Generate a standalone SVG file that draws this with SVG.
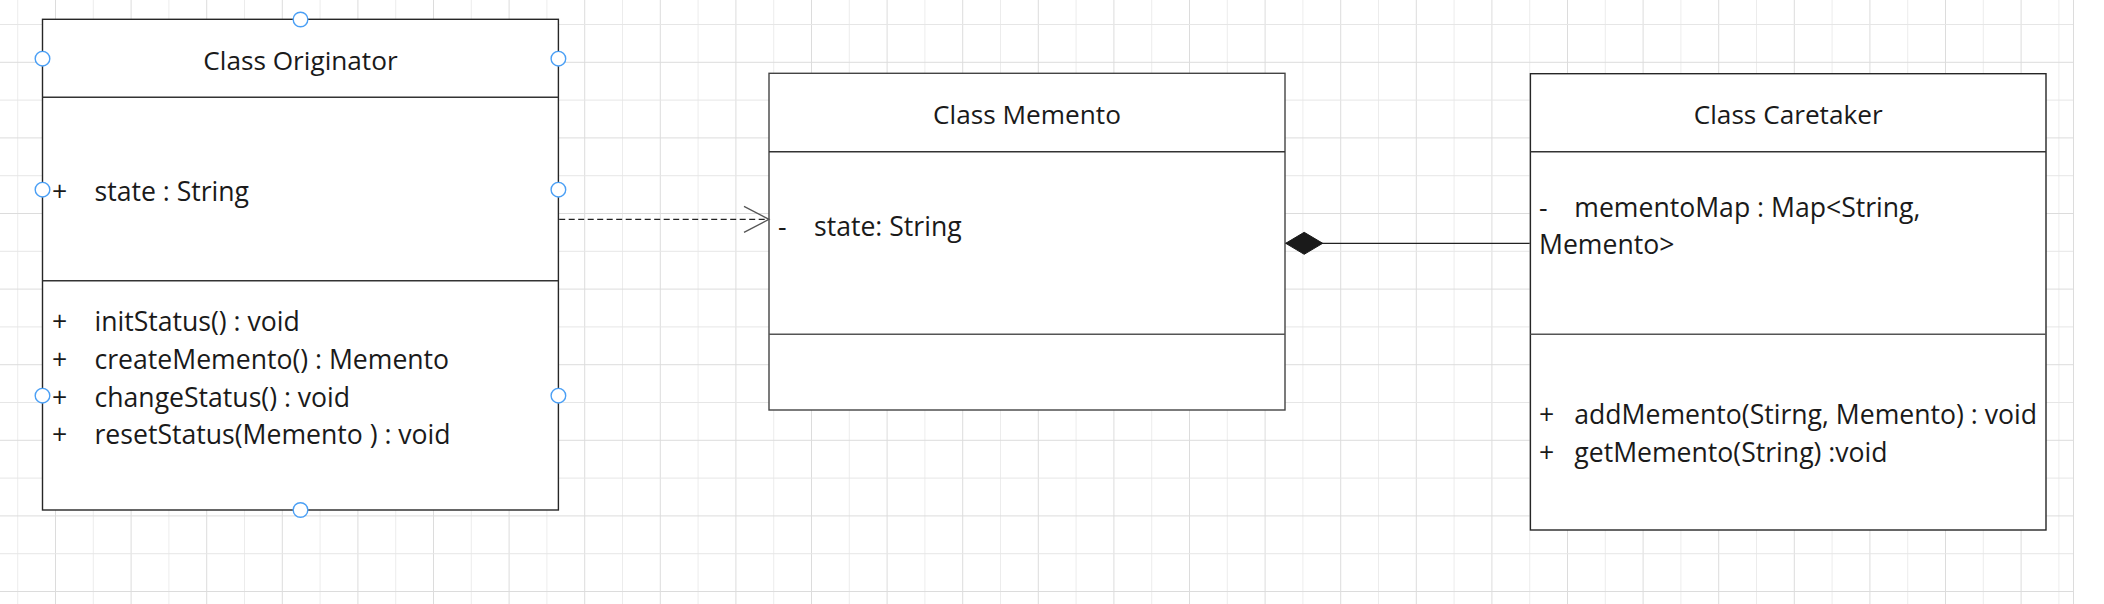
<svg xmlns="http://www.w3.org/2000/svg" width="2104" height="604" viewBox="0 0 2104 604">
  <defs>
    <pattern id="grid" patternUnits="userSpaceOnUse" x="17.2" y="24" width="75.6" height="75.6">
      <line x1="0.5" y1="0" x2="0.5" y2="75.6" stroke="#ececec" stroke-width="1"/>
      <line x1="38.3" y1="0" x2="38.3" y2="75.6" stroke="#dcdcdc" stroke-width="1"/>
      <line x1="0" y1="0.5" x2="75.6" y2="0.5" stroke="#e6e6e6" stroke-width="1"/>
      <line x1="0" y1="38.3" x2="75.6" y2="38.3" stroke="#dcdcdc" stroke-width="1"/>
    </pattern>
    <marker id="openArrow" markerUnits="userSpaceOnUse" markerWidth="30" markerHeight="30" refX="26" refY="14" orient="auto">
      <path d="M1,1 L26,14 L1,27" fill="none" stroke="#555" stroke-width="1.3"/>
    </marker>
    <marker id="diamond" markerUnits="userSpaceOnUse" markerWidth="40" markerHeight="24" refX="1" refY="12" orient="auto">
      <path d="M1,12 L19.5,1 L38,12 L19.5,23 Z" fill="#1a1a1a" stroke="#1a1a1a" stroke-width="1"/>
    </marker>
  </defs>
  <style>
    .box { fill: #ffffff; stroke: #262626; stroke-width: 1.4; }
    .div { stroke: #333333; stroke-width: 1.4; }
    .t { font-family: "Open Sans", "Noto Sans", "Liberation Sans", sans-serif; font-size: 26.6px; fill: #1a1a1a; }
    .title { text-anchor: middle; font-size: 26.2px; }
    .handle { fill: #ffffff; stroke: #4a9ff5; stroke-width: 1.4; }
  </style>

  <rect x="0" y="0" width="2104" height="604" fill="#ffffff"/>
  <rect x="0" y="0" width="2073" height="604" fill="url(#grid)"/>
  <line x1="2073.5" y1="0" x2="2073.5" y2="604" stroke="#dcdcdc" stroke-width="1"/>

  <g id="originator">
    <rect class="box" x="42.5" y="19.3" width="515.9" height="490.7"/>
    <line class="div" x1="42.5" y1="97.3" x2="558.4" y2="97.3"/>
    <line class="div" x1="42.5" y1="280.7" x2="558.4" y2="280.7"/>
    <text class="t title" x="300.5" y="70">Class Originator</text>
    <text class="t" x="52" y="200.7">+</text>
    <text class="t" x="94.5" y="200.7">state : String</text>
    <text class="t" x="52" y="330.7">+</text>
    <text class="t" x="94.5" y="330.7">initStatus() : void</text>
    <text class="t" x="52" y="369">+</text>
    <text class="t" x="94.5" y="369">createMemento() : Memento</text>
    <text class="t" x="52" y="406.7">+</text>
    <text class="t" x="94.5" y="406.7">changeStatus() : void</text>
    <text class="t" x="52" y="444.3">+</text>
    <text class="t" x="94.5" y="444.3">resetStatus(Memento ) : void</text>
    <circle class="handle" cx="300.5" cy="19.5" r="7.3"/>
    <circle class="handle" cx="42.5" cy="58.7" r="7.3"/>
    <circle class="handle" cx="558.4" cy="58.7" r="7.3"/>
    <circle class="handle" cx="42.5" cy="189.7" r="7.3"/>
    <circle class="handle" cx="558.4" cy="189.7" r="7.3"/>
    <circle class="handle" cx="42.5" cy="395.7" r="7.3"/>
    <circle class="handle" cx="558.4" cy="395.7" r="7.3"/>
    <circle class="handle" cx="300.5" cy="510" r="7.3"/>
  </g>

  <g id="memento">
    <rect class="box" x="769" y="73.3" width="516" height="336.7" style="stroke:#444"/>
    <line class="div" x1="769" y1="151.7" x2="1285" y2="151.7"/>
    <line class="div" x1="769" y1="334.3" x2="1285" y2="334.3" style="stroke:#555"/>
    <text class="t title" x="1027" y="124">Class Memento</text>
    <text class="t" x="778" y="235.7">-</text>
    <text class="t" x="814" y="235.7">state: String</text>
  </g>

  <g id="caretaker">
    <rect class="box" x="1530.4" y="73.7" width="515.6" height="456.3"/>
    <line class="div" x1="1530.4" y1="151.7" x2="2046" y2="151.7"/>
    <line class="div" x1="1530.4" y1="334.3" x2="2046" y2="334.3" style="stroke:#555"/>
    <text class="t title" x="1788.2" y="124">Class Caretaker</text>
    <text class="t" x="1539" y="216.7">-</text>
    <text class="t" x="1574.3" y="216.7">mementoMap : Map&lt;String,</text>
    <text class="t" x="1539" y="254.3">Memento&gt;</text>
    <text class="t" x="1539" y="424">+</text>
    <text class="t" x="1574.3" y="424">addMemento(Stirng, Memento) : void</text>
    <text class="t" x="1539" y="462.3">+</text>
    <text class="t" x="1574.3" y="462.3">getMemento(String) :void</text>
  </g>

  <g id="connectors">
    <line x1="559.2" y1="219.3" x2="769" y2="219.3" stroke="#222" stroke-width="1.3" stroke-dasharray="6,3.5" marker-end="url(#openArrow)"/>
    <line x1="1285.7" y1="243.3" x2="1529.7" y2="243.3" stroke="#222" stroke-width="1.3" marker-start="url(#diamond)"/>
  </g>
</svg>
